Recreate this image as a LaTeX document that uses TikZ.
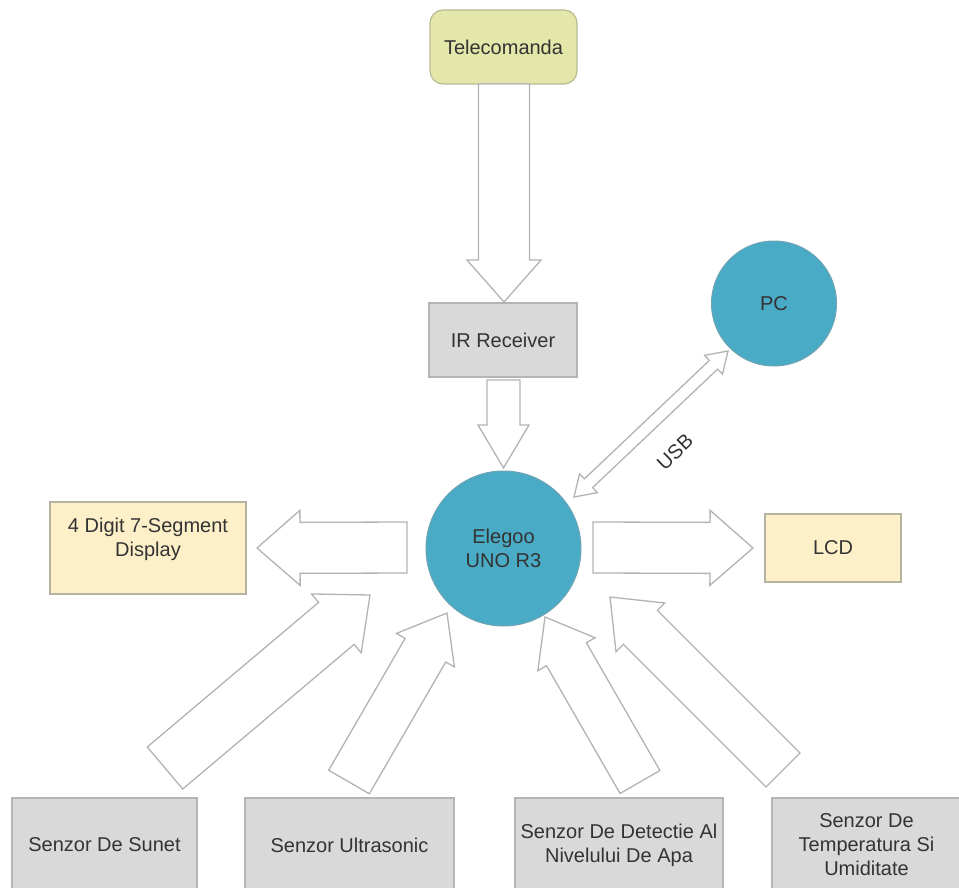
\documentclass[tikz,border=0pt]{standalone}
\usepackage{fontspec}
\setmainfont{Liberation Sans}
\usetikzlibrary{calc}
\definecolor{txt}{HTML}{333333}
\definecolor{greenfill}{HTML}{E4E7AA}
\definecolor{greenline}{HTML}{B9BA92}
\definecolor{grayfill}{HTML}{D9D9D9}
\definecolor{grayline}{HTML}{B5B5B5}
\definecolor{yelfill}{HTML}{FDF0C9}
\definecolor{yelline}{HTML}{B8B2A0}
\definecolor{bluefill}{HTML}{4AABC6}
\definecolor{blueline}{HTML}{6FA3B3}
\definecolor{arrline}{HTML}{B3B3B3}
\tikzset{
  lbl/.style={font=\fontsize{20}{24}\selectfont, text=txt, align=center},
  boxnode/.style={lbl, draw=grayline, fill=grayfill, line width=1.2pt, inner sep=0pt},
  yelbox/.style={boxnode, draw=yelline, fill=yelfill},
  greenbox/.style={boxnode, draw=greenline, fill=greenfill, rounded corners=13pt},
  bluecirc/.style={lbl, circle, draw=blueline, fill=bluefill, line width=1pt, inner sep=0pt},
  barrow/.style={draw=arrline, fill=white, line width=1.3pt, line join=miter},
}
\newcommand\blockarrow[5]{%
  \path ($(#2)!#5!(#1)$) coordinate (ba-h);
  \draw[barrow] ($(#1)!#3!90:(#2)$) -- ($(ba-h)!#3!90:(#2)$) -- ($(ba-h)!#4!90:(#2)$) -- (#2)
    -- ($(ba-h)!#4!-90:(#2)$) -- ($(ba-h)!#3!-90:(#2)$) -- ($(#1)!#3!-90:(#2)$) -- cycle;}
\newcommand\dblarrow[5]{%
  \path ($(#1)!#5!(#2)$) coordinate (da-a) ($(#2)!#5!(#1)$) coordinate (da-b);
  \draw[barrow] (#1) -- ($(da-a)!#4!90:(#2)$) -- ($(da-a)!#3!90:(#2)$) -- ($(da-b)!#3!-90:(#1)$)
    -- ($(da-b)!#4!-90:(#1)$) -- (#2) -- ($(da-b)!#4!90:(#1)$) -- ($(da-b)!#3!90:(#1)$)
    -- ($(da-a)!#3!-90:(#2)$) -- ($(da-a)!#4!-90:(#2)$) -- cycle;}
\begin{document}
\begin{tikzpicture}[x=1pt,y=-1pt]
\useasboundingbox (0,0) rectangle (959,888);
\clip (0,0) rectangle (959,888);
% nodes
\node[greenbox, minimum width=147pt, minimum height=74pt] (tele) at (503.5,47) {Telecomanda};
\node[boxnode, minimum width=148pt, minimum height=74pt] (ir) at (503,340) {IR Receiver};
\node[bluecirc, minimum size=155pt] (elegoo) at (503.5,548.5) {Elegoo\\UNO R3};
\node[bluecirc, minimum size=125pt] (pc) at (774,303.5) {PC};
\node[yelbox, minimum width=196pt, minimum height=92pt] (digit) at (148,548) {};
\node[lbl] (digittext) at (148,539) {4 Digit 7-Segment\\Display};
\node[yelbox, minimum width=136pt, minimum height=68pt] (lcd) at (833,548) {LCD};
\node[boxnode, minimum width=185pt, minimum height=94pt] (sunet) at (104.5,845) {Senzor De Sunet};
\node[boxnode, minimum width=209pt, minimum height=94pt] (ultra) at (349.5,845) {Senzor Ultrasonic};
\node[boxnode, minimum width=208pt, minimum height=94pt] (detect) at (619,845) {Senzor De Detectie Al\\Nivelului De Apa};
\node[boxnode, minimum width=189pt, minimum height=94pt] (temp) at (866.5,845) {Senzor De\\Temperatura Si\\Umiditate};
% arrow end points
\coordinate (teleT) at (504,84);
\coordinate (teleH) at (504,302);
\coordinate (irT) at (503.5,380);
\coordinate (irH) at (503.5,468);
\coordinate (digT) at (407,547.5);
\coordinate (digH) at (257,548);
\coordinate (lcdT) at (593,547.5);
\coordinate (lcdH) at (753,548);
\coordinate (sunT) at (165,768);
\coordinate (sunH) at (370,595);
\coordinate (ulT) at (349,782);
\coordinate (ulH) at (447,613);
\coordinate (deT) at (640,782);
\coordinate (deH) at (545,617);
\coordinate (teT) at (783,770);
\coordinate (teH) at (610,597);
\coordinate (usbA) at (574,497);
\coordinate (usbB) at (728,351);
% arrows
\blockarrow{teleT}{teleH}{25.5pt}{37pt}{42pt}
\blockarrow{irT}{irH}{16.5pt}{25.5pt}{43pt}
\blockarrow{digT}{digH}{25.5pt}{37.5pt}{43pt}
\blockarrow{lcdT}{lcdH}{25.5pt}{37.5pt}{43pt}
\blockarrow{sunT}{sunH}{27.5pt}{38.5pt}{44pt}
\blockarrow{ulT}{ulH}{23.5pt}{33.5pt}{43pt}
\blockarrow{deT}{deH}{23pt}{33pt}{43pt}
\blockarrow{teT}{teH}{24pt}{34.5pt}{43pt}
\dblarrow{usbA}{usbB}{6pt}{13pt}{20pt}
\node[lbl, rotate=44] (usb) at (675,452) {USB};
\end{tikzpicture}
\end{document}
